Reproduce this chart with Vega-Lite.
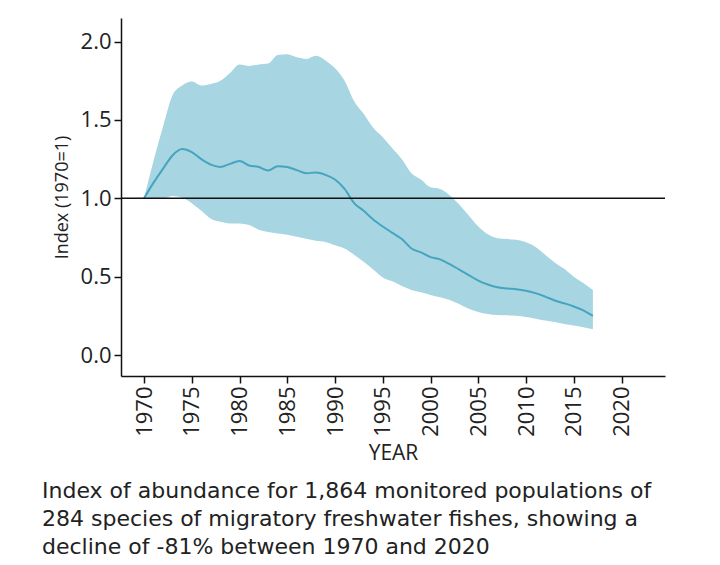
{
  "$schema": "https://vega.github.io/schema/vega-lite/v6.json",
  "autosize": "none",
  "padding": {"left": 121, "top": 18, "right": 55, "bottom": 189},
  "width": 544,
  "height": 358,
  "background": "white",
  "config": {
    "view": {"stroke": null},
    "font": "Open Sans",
    "axis": {
      "grid": false,
      "domainColor": "#111",
      "domainWidth": 1.5,
      "tickColor": "#111",
      "tickWidth": 1.5,
      "tickSize": 7,
      "labelColor": "#222",
      "titleColor": "#222",
      "labelFont": "Open Sans",
      "titleFont": "Open Sans",
      "titleFontWeight": "normal"
    }
  },
  "title": {
    "text": [
      "Index of abundance for 1,864 monitored populations of",
      "284 species of migratory freshwater fishes, showing a",
      "decline of -81% between 1970 and 2020"
    ],
    "orient": "bottom",
    "anchor": "start",
    "frame": "group",
    "dx": -79,
    "offset": 18,
    "font": "DejaVu Sans",
    "fontSize": 22,
    "fontWeight": "normal",
    "color": "#222",
    "lineHeight": 28
  },
  "datasets": {
    "lpi": [
      {"year": 1970, "lower": 1.0, "upper": 1.0, "index": 1.0},
      {"year": 1971, "lower": 1.0, "upper": 1.24, "index": 1.1},
      {"year": 1972, "lower": 1.0, "upper": 1.46, "index": 1.19},
      {"year": 1973, "lower": 1.015, "upper": 1.66, "index": 1.275},
      {"year": 1974, "lower": 1.005, "upper": 1.72, "index": 1.315},
      {"year": 1975, "lower": 0.968, "upper": 1.745, "index": 1.295},
      {"year": 1976, "lower": 0.92, "upper": 1.72, "index": 1.25},
      {"year": 1977, "lower": 0.87, "upper": 1.73, "index": 1.215},
      {"year": 1978, "lower": 0.85, "upper": 1.75, "index": 1.2},
      {"year": 1979, "lower": 0.84, "upper": 1.8, "index": 1.22},
      {"year": 1980, "lower": 0.84, "upper": 1.855, "index": 1.238},
      {"year": 1981, "lower": 0.83, "upper": 1.845, "index": 1.21},
      {"year": 1982, "lower": 0.8, "upper": 1.855, "index": 1.2},
      {"year": 1983, "lower": 0.785, "upper": 1.86, "index": 1.178},
      {"year": 1984, "lower": 0.775, "upper": 1.915, "index": 1.205},
      {"year": 1985, "lower": 0.768, "upper": 1.92, "index": 1.2},
      {"year": 1986, "lower": 0.755, "upper": 1.9, "index": 1.18},
      {"year": 1987, "lower": 0.742, "upper": 1.89, "index": 1.16},
      {"year": 1988, "lower": 0.73, "upper": 1.91, "index": 1.165},
      {"year": 1989, "lower": 0.722, "upper": 1.88, "index": 1.15},
      {"year": 1990, "lower": 0.7, "upper": 1.83, "index": 1.12},
      {"year": 1991, "lower": 0.68, "upper": 1.75, "index": 1.06},
      {"year": 1992, "lower": 0.64, "upper": 1.62, "index": 0.97},
      {"year": 1993, "lower": 0.595, "upper": 1.54, "index": 0.92},
      {"year": 1994, "lower": 0.545, "upper": 1.45, "index": 0.865},
      {"year": 1995, "lower": 0.495, "upper": 1.39, "index": 0.82},
      {"year": 1996, "lower": 0.47, "upper": 1.32, "index": 0.78},
      {"year": 1997, "lower": 0.44, "upper": 1.25, "index": 0.74},
      {"year": 1998, "lower": 0.415, "upper": 1.16, "index": 0.68},
      {"year": 1999, "lower": 0.4, "upper": 1.12, "index": 0.655},
      {"year": 2000, "lower": 0.383, "upper": 1.07, "index": 0.625},
      {"year": 2001, "lower": 0.368, "upper": 1.06, "index": 0.61},
      {"year": 2002, "lower": 0.351, "upper": 1.02, "index": 0.58},
      {"year": 2003, "lower": 0.325, "upper": 0.96, "index": 0.545},
      {"year": 2004, "lower": 0.295, "upper": 0.89, "index": 0.51},
      {"year": 2005, "lower": 0.275, "upper": 0.82, "index": 0.475},
      {"year": 2006, "lower": 0.262, "upper": 0.77, "index": 0.45},
      {"year": 2007, "lower": 0.255, "upper": 0.745, "index": 0.432},
      {"year": 2008, "lower": 0.253, "upper": 0.74, "index": 0.425},
      {"year": 2009, "lower": 0.251, "upper": 0.735, "index": 0.42},
      {"year": 2010, "lower": 0.242, "upper": 0.72, "index": 0.41},
      {"year": 2011, "lower": 0.232, "upper": 0.69, "index": 0.395},
      {"year": 2012, "lower": 0.22, "upper": 0.64, "index": 0.373},
      {"year": 2013, "lower": 0.21, "upper": 0.59, "index": 0.348},
      {"year": 2014, "lower": 0.198, "upper": 0.55, "index": 0.33},
      {"year": 2015, "lower": 0.188, "upper": 0.5, "index": 0.31},
      {"year": 2016, "lower": 0.177, "upper": 0.46, "index": 0.285},
      {"year": 2017, "lower": 0.164, "upper": 0.415, "index": 0.25}
    ],
    "baseline": [{"value": 1}]
  },
  "layer": [
    {
      "data": {"name": "lpi"},
      "mark": {"type": "area", "color": "#a7d5e1", "opacity": 1, "interpolate": "monotone"},
      "encoding": {
        "x": {
          "field": "year",
          "type": "quantitative",
          "scale": {"domain": [1967.59, 2024.55], "nice": false, "zero": false},
          "axis": {
            "title": "YEAR",
            "titleFontSize": 21,
            "titlePadding": 6,
            "values": [1970, 1975, 1980, 1985, 1990, 1995, 2000, 2005, 2010, 2015, 2020],
            "format": "d",
            "labelAngle": 270,
            "labelFontSize": 22,
            "labelPadding": 3
          }
        },
        "y": {
          "field": "upper",
          "type": "quantitative",
          "scale": {"domain": [-0.134, 2.151], "nice": false, "zero": false},
          "axis": {
            "title": "Index (1970=1)",
            "titleFontSize": 18,
            "titlePadding": 9,
            "values": [0, 0.5, 1, 1.5, 2],
            "format": ".1f",
            "labelFontSize": 22,
            "labelPadding": 3
          }
        },
        "y2": {"field": "lower"}
      }
    },
    {
      "data": {"name": "lpi"},
      "mark": {"type": "line", "color": "#45a5c0", "strokeWidth": 2, "interpolate": "monotone"},
      "encoding": {
        "x": {"field": "year", "type": "quantitative"},
        "y": {"field": "index", "type": "quantitative"}
      }
    },
    {
      "data": {"name": "baseline"},
      "mark": {"type": "rule", "color": "#111", "strokeWidth": 1.5},
      "encoding": {
        "y": {"field": "value", "type": "quantitative"}
      }
    }
  ]
}
